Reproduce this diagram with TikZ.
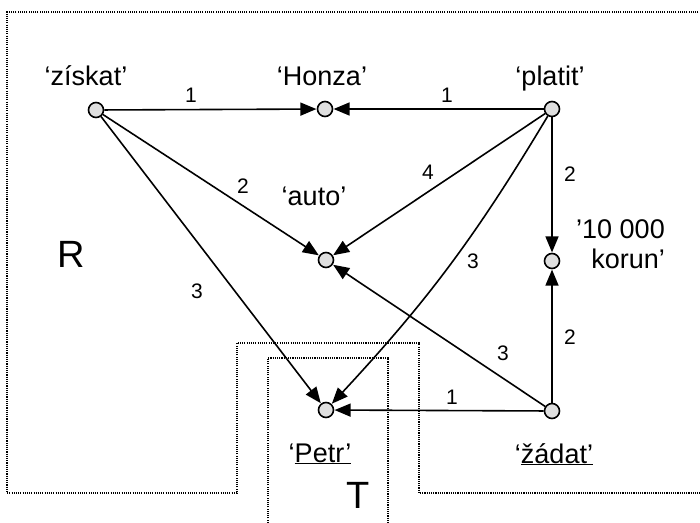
\documentclass[tikz,border=0pt]{standalone}
\usepackage{fontspec}
\setmainfont{Liberation Sans}
\usetikzlibrary{arrows.meta}
\begin{document}
\begin{tikzpicture}[x=1pt,y=-1pt,
  pt/.style={circle,draw,line width=1.6pt,fill=gray!25,minimum size=15pt,inner sep=0pt},
  arr/.style={line width=1.6pt,-{Triangle[length=16pt,width=13pt]},shorten >=0.3pt},
  word/.style={font=\fontsize{27}{30}\selectfont,inner sep=0pt},
  num/.style={font=\fontsize{21}{23}\selectfont,inner sep=0pt},
  big/.style={font=\fontsize{38}{40}\selectfont,inner sep=0pt},
  zone/.style={line width=1.2pt,dash pattern=on 1.1pt off 1.1pt}]
\useasboundingbox (0,0) rectangle (700,522);

% regions R and T
\draw[zone] (705,12) -- (7,12) -- (7,493) -- (237,493) -- (237,343)
  -- (419,343) -- (419,493) -- (705,493);
\draw[zone] (268,525) -- (268,358) -- (388,358) -- (388,525);
\node[big] (lR) at (71,254) {R};
\node[big] (lT) at (358,495) {T};

% points
\node[pt] (z) at (96,110) {};
\node[pt] (h) at (325,109) {};
\node[pt] (p) at (552,109) {};
\node[pt] (a) at (326,260) {};
\node[pt] (k) at (552,261) {};
\node[pt] (pe) at (326,410) {};
\node[pt] (zd) at (552,411) {};

% point labels
\node[word,anchor=base] (tz) at (86,85) {‘získat’};
\node[word,anchor=base] (th) at (322,85) {‘Honza’};
\node[word,anchor=base] (tp) at (550,85) {‘platit’};
\node[word,anchor=base] (ta) at (314,205) {‘auto’};
\node[word,anchor=base east,align=right] (tk) at (665,268) {'10 000\\korun’};
\node[word,anchor=base] (tpe) at (320,462) {‘\underline{Petr’}};
\node[word,anchor=base] (tzd) at (554,463) {‘\underline{žádat’}};

% connectors
\draw[arr] (z) -- (h);
\draw[arr] (p) -- (h);
\draw[arr] (z) -- (a);
\draw[arr] (p) -- (a);
\draw[arr] (zd) -- (a);
\draw[arr] (p) -- (k);
\draw[arr] (zd) -- (k);
\draw[arr] (z) -- (pe);
\draw[arr] (p) to[bend left=6] (pe);
\draw[arr] (zd) -- (pe);

% connector weights
\node[num] (n1) at (191,95) {1};
\node[num] (n2) at (447,95) {1};
\node[num] (n3) at (243,186) {2};
\node[num] (n4) at (428,172) {4};
\node[num] (n5) at (570,174) {2};
\node[num] (n6) at (197,291) {3};
\node[num] (n7) at (473,261) {3};
\node[num] (n8) at (503,353) {3};
\node[num] (n9) at (570,337) {2};
\node[num] (n10) at (452,397) {1};
\end{tikzpicture}
\end{document}
